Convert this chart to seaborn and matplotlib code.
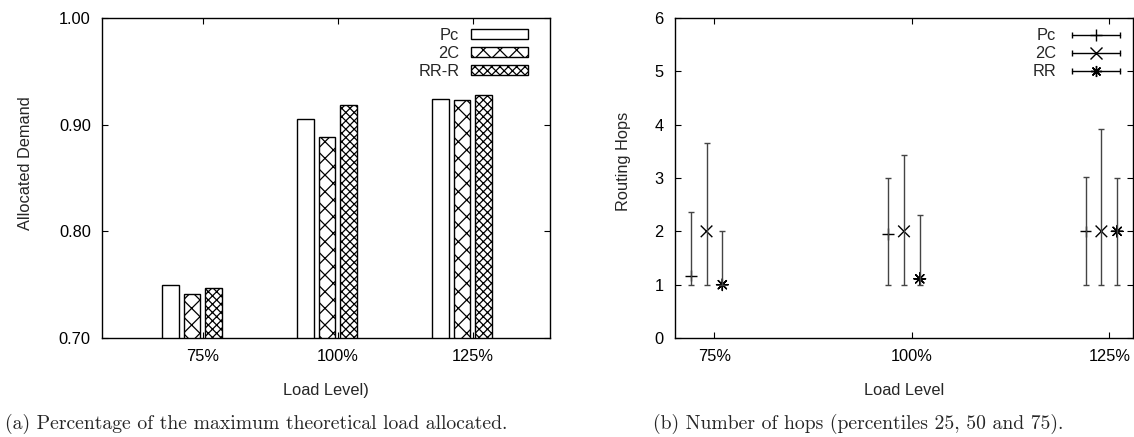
import numpy as np
import pandas as pd
import matplotlib
matplotlib.use("Agg")
import matplotlib.pyplot as plt
import seaborn as sns
from matplotlib.patches import Patch
from matplotlib.lines import Line2D
from matplotlib.legend_handler import HandlerLine2D, HandlerTuple

# data
load_levels = ["75%", "100%", "125%"]

alloc_series = ["Pc", "2C", "RR-R"]
alloc_pc = [0.750, 0.905, 0.924]
alloc_2c = [0.741, 0.888, 0.923]
alloc_rr = [0.747, 0.918, 0.928]

hop_series = ["Pc", "2C", "RR"]
hops_median = {"Pc": [1.17, 1.95, 2.00], "2C": [2.00, 2.00, 2.00], "RR": [1.00, 1.11, 2.00]}
hops_p25 = {"Pc": [1.0, 1.0, 1.0], "2C": [1.0, 1.0, 1.0], "RR": [1.0, 1.0, 1.0]}
hops_p75 = {"Pc": [2.37, 3.00, 3.02], "2C": [3.66, 3.43, 3.92], "RR": [2.00, 2.31, 3.00]}

sns.set_theme(style="ticks")
plt.rcParams["font.family"] = ["Liberation Sans", "DejaVu Sans"]
plt.rcParams["hatch.linewidth"] = 0.9

fig = plt.figure(figsize=(11.34, 4.37), dpi=100)
ax1 = fig.add_axes([0.0899, 0.2265, 0.395, 0.7323])
ax2 = fig.add_axes([0.5952, 0.2265, 0.4039, 0.7323])

fs = 11.8

# ---- (a) bars
df_a = pd.DataFrame({
    "load": load_levels * 3,
    "series": np.repeat(alloc_series, 3),
    "value": alloc_pc + alloc_2c + alloc_rr,
})
sns.barplot(data=df_a, x="load", y="value", hue="series", hue_order=alloc_series,
            palette=["white"] * 3, saturation=1, edgecolor="black", linewidth=1.0,
            width=0.48, gap=0.227, legend=False, ax=ax1)
hatches = ["", "xx", "xxxx"]
for cont, h in zip(ax1.containers, hatches):
    for p in cont:
        p.set_hatch(h)

ax1.set_ylim(0.70, 1.00)
ax1.set_xlim(-0.667, 2.652)
ax1.set_yticks([0.70, 0.80, 0.90, 1.00])
ax1.set_yticklabels(["%.2f" % v for v in [0.70, 0.80, 0.90, 1.00]])
ax1.set_xticks(np.arange(len(load_levels)) + 0.079)
ax1.set_xticklabels(load_levels)
ax1.set_xlabel("Load Level)", fontsize=fs)
ax1.set_ylabel("Allocated Demand", fontsize=fs)
ax1.xaxis.set_label_coords(0.5, -0.142)
ax1.yaxis.set_label_coords(-0.154, 0.545)

handles_a = [Patch(facecolor="white", edgecolor="black", hatch=h, linewidth=1.0) for h in hatches]
ax1.legend(handles_a, alloc_series, loc="upper right", markerfirst=False, frameon=False,
           fontsize=fs, handlelength=3.5, handleheight=0.62, labelspacing=0.18,
           handletextpad=0.7, borderaxespad=0.0, bbox_to_anchor=(0.966, 0.99))

# ---- (b) percentiles
offsets = {"Pc": -0.12, "2C": -0.04, "RR": 0.04}
markers = {"Pc": "+", "2C": "x", "RR": (8, 2, 0)}
rows = []
for s in hop_series:
    for i, lv in enumerate(load_levels):
        rows.append({"x": i + offsets[s], "series": s, "median": hops_median[s][i],
                     "lo": hops_p25[s][i], "hi": hops_p75[s][i]})
df_b = pd.DataFrame(rows)

ax2.errorbar(df_b["x"], df_b["median"],
             yerr=[df_b["median"] - df_b["lo"], df_b["hi"] - df_b["median"]],
             fmt="none", ecolor="#444444", elinewidth=1.0, capsize=2.2, capthick=1.0)
sns.scatterplot(data=df_b, x="x", y="median", style="series", style_order=hop_series,
                markers=markers, color="black", s=70, linewidth=1.0, legend=False, ax=ax2)

ax2.set_ylim(0, 6)
ax2.set_xlim(-0.2, 2.12)
ax2.set_yticks(range(0, 7))
ax2.set_xticks(range(len(load_levels)))
ax2.set_xticklabels(load_levels)
ax2.set_xlabel("Load Level", fontsize=fs)
ax2.set_ylabel("Routing Hops", fontsize=fs)
ax2.xaxis.set_label_coords(0.5, -0.142)
ax2.yaxis.set_label_coords(-0.095, 0.553)

handles_b = []
hmap = {}
for s in hop_series:
    caps = Line2D([], [], color="black", linewidth=1.0, marker="|", markersize=5)
    mid = Line2D([], [], color="black", linestyle="none", marker=markers[s],
                 markersize=8, markeredgewidth=1.0)
    hmap[caps] = HandlerLine2D(numpoints=2)
    hmap[mid] = HandlerLine2D(numpoints=1)
    handles_b.append((caps, mid))
hmap[tuple] = HandlerTuple(ndivide=1)
ax2.legend(handles_b, hop_series, loc="upper right", markerfirst=False, frameon=False,
           fontsize=fs, handlelength=3.5, labelspacing=0.18, handletextpad=0.7,
           borderaxespad=0.1, handler_map=hmap, bbox_to_anchor=(1.0, 0.993))

for ax in (ax1, ax2):
    for sp in ax.spines.values():
        sp.set_visible(True)
        sp.set_linewidth(1.0)
        sp.set_color("black")
    ax.tick_params(direction="in", length=4, width=0.8, top=True, right=True,
                   labelsize=fs, pad=8, colors="black")
    ax.tick_params(axis="y", pad=8)

fig.text(0.004, 0.018, "(a) Percentage of the maximum theoretical load allocated.",
         family="cmr10", fontsize=14.2, ha="left", va="baseline")
fig.text(0.5755, 0.018, "(b) Number of hops (percentiles 25, 50 and 75).",
         family="cmr10", fontsize=14.2, ha="left", va="baseline")

fig.savefig("out.png", dpi=100)
